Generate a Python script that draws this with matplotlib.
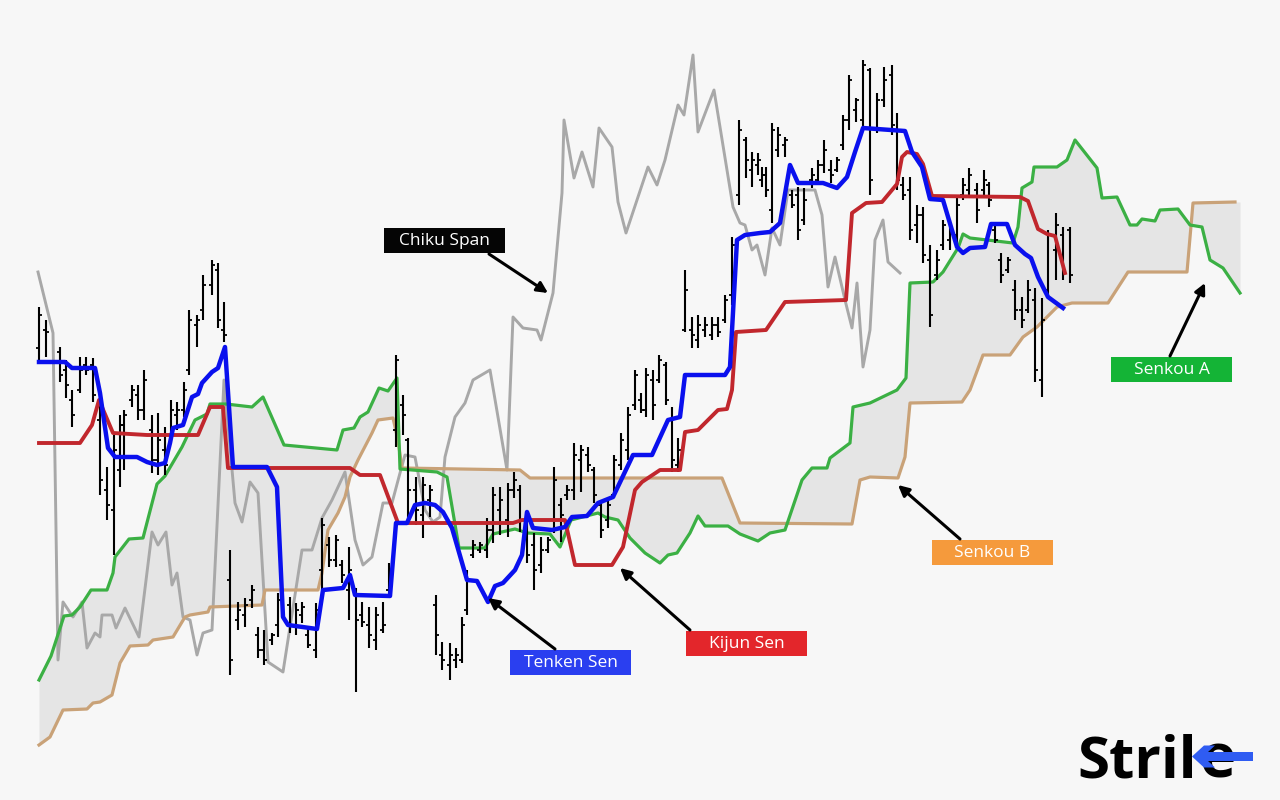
import numpy as np
import matplotlib
matplotlib.use("Agg")
import matplotlib.pyplot as plt
from matplotlib.patches import Rectangle, Polygon

# ---- price bars (time, high, low, open, close) ----
bar_t = [3.9, 4.6, 6.0, 6.6, 7.2, 8.0, 8.6, 9.3, 10.0, 10.7, 11.4, 12.0, 12.4, 13.2, 13.8, 14.4,
         15.2, 15.8, 16.5, 17.1, 17.7, 18.4, 18.9, 19.7, 20.3, 21.2, 21.8, 22.4, 23.0, 23.8, 24.5,
         25.2, 25.8, 26.4, 27.2, 27.8, 29.0, 29.6, 30.2, 30.8, 31.6, 32.2, 32.9, 33.6, 34.2, 34.9,
         35.6, 36.2, 36.9, 37.6, 38.3, 38.9, 39.6, 40.3, 40.8, 41.6, 42.3, 43.0, 43.6, 44.2, 45.0,
         45.6, 46.2, 46.7, 47.3, 48.0, 48.7, 49.3, 50.0, 50.8, 51.4, 52.0, 52.7, 53.4, 54.1, 54.8,
         55.4, 56.1, 56.7, 57.4, 58.1, 58.8, 59.4, 60.1, 60.8, 61.4, 62.1, 62.8, 63.5, 64.1, 64.6,
         65.3, 65.9, 66.6, 67.2, 67.8, 68.5, 69.2, 69.8, 70.5, 71.2, 71.8, 72.5, 73.2, 73.9, 74.6,
         75.2, 75.8, 76.2, 76.6, 77.2, 77.8, 78.5, 79.2, 79.8, 80.4, 81.2, 81.8, 82.4, 83.1, 83.7,
         84.3, 84.9, 85.6, 86.3, 87.0, 87.7, 88.4, 89.2, 89.7, 90.3, 91.0, 91.7, 92.3, 93.0, 93.7,
         94.3, 95.0, 95.7, 96.3, 96.9, 97.7, 98.4, 98.9, 99.5, 100.1, 100.8, 101.5, 102.2, 102.8,
         103.5, 104.2, 104.8, 105.6, 106.3, 107.0]
bar_high = [49.3, 48.0, 45.3, 44.0, 41.0, 44.3, 44.3, 44.2, 40.3, 33.3, 36.5, 38.5, 39.0, 41.5, 41.5, 43.0,
            38.5, 38.7, 37.3, 40.0, 39.8, 41.8, 49.0, 48.5, 52.5, 54.0, 53.7, 49.8, 25.0, 19.8, 20.2,
            21.5, 17.3, 17.0, 16.7, 20.7, 20.3, 19.7, 19.8, 17.2, 19.7, 28.2, 26.3, 26.5, 24.0, 25.3,
            21.2, 19.8, 19.3, 19.3, 19.8, 23.7, 44.5, 40.5, 36.2, 32.3, 32.3, 31.5, 20.5, 15.8, 15.7,
            15.2, 18.3, 23.0, 26.0, 25.8, 28.2, 31.3, 31.3, 31.7, 32.8, 31.5, 28.3, 26.7, 26.3, 26.3,
            33.3, 30.2, 31.5, 35.7, 35.5, 35.3, 33.3, 30.0, 30.3, 34.5, 36.7, 39.3, 43.0, 40.7, 43.2,
            43.0, 44.5, 43.8, 39.3, 36.2, 53.0, 48.3, 48.5, 48.3, 48.3, 48.3, 50.5, 56.3, 68.0, 66.3,
            64.8, 64.7, 63.3, 63.3, 67.7, 67.3, 66.3, 61.0, 61.3, 61.2, 63.2, 64.0, 66.0, 64.0, 64.3,
            68.5, 72.5, 70.2, 74.0, 73.2, 70.7, 73.3, 73.5, 68.7, 62.3, 62.3, 59.5, 59.3, 55.5, 55.0,
            58.0, 57.7, 60.3, 62.2, 63.2, 61.7, 63.0, 61.8, 57.7, 54.7, 54.3, 52.0, 50.3, 52.0,
            51.2, 50.2, 57.0, 58.7, 57.3, 57.3]
bar_low = [43.8, 44.3, 41.8, 40.2, 37.3, 40.7, 42.5, 39.8, 30.5, 28.0, 24.5, 31.3, 33.0, 39.3, 38.0, 38.0,
           32.7, 32.5, 32.5, 36.3, 37.0, 38.3, 42.5, 45.3, 48.0, 50.5, 47.2, 45.8, 12.5, 17.0, 17.3,
           19.2, 14.2, 13.5, 15.5, 16.3, 16.7, 16.5, 17.7, 15.2, 14.2, 21.0, 23.3, 23.3, 21.7, 18.0,
           10.8, 17.3, 15.2, 15.0, 16.7, 20.3, 35.3, 36.5, 28.0, 27.5, 26.2, 28.3, 14.5, 13.0, 12.0,
           13.2, 13.7, 18.5, 24.2, 24.7, 24.2, 25.7, 26.5, 26.3, 30.2, 26.8, 23.7, 21.0, 22.7, 24.7,
           26.7, 25.8, 30.0, 30.0, 30.8, 32.8, 29.7, 26.2, 27.2, 30.2, 33.0, 34.0, 39.0, 38.7, 38.3,
           38.0, 41.7, 39.5, 32.8, 32.8, 46.8, 45.2, 45.2, 46.3, 46.0, 46.3, 47.7, 49.5, 59.5, 62.2,
           61.3, 62.5, 61.3, 60.3, 57.7, 64.3, 64.3, 59.2, 56.0, 57.5, 61.2, 61.7, 62.7, 61.7, 62.8,
           65.0, 67.0, 67.8, 67.0, 60.5, 66.7, 69.3, 66.5, 61.0, 60.0, 56.0, 55.7, 53.7, 47.3, 52.0,
           55.0, 55.0, 55.7, 60.0, 60.2, 57.7, 60.3, 59.3, 55.7, 51.7, 52.7, 48.0, 47.2, 48.7,
           41.8, 40.3, 50.2, 52.0, 52.0, 51.7]
bar_open = [45.2, 47.0, 44.8, 43.0, 40.0, 41.0, 43.5, 43.5, 38.0, 31.0, 29.0, 33.0, 37.5, 40.0, 40.5, 39.0,
            37.0, 34.0, 35.0, 36.5, 38.5, 39.0, 43.0, 47.5, 49.0, 51.5, 53.0, 47.0, 22.0, 18.0, 18.5,
            20.0, 16.5, 15.0, 16.0, 17.5, 19.5, 17.5, 18.5, 16.5, 15.0, 23.0, 25.5, 24.0, 23.5, 21.0,
            20.5, 18.5, 17.5, 16.0, 17.0, 21.0, 37.0, 39.5, 36.0, 31.0, 28.5, 30.0, 19.5, 14.5, 13.5,
            14.0, 14.0, 19.0, 24.5, 25.0, 25.0, 27.0, 29.0, 28.0, 31.0, 31.0, 27.5, 25.5, 23.5, 25.0,
            27.0, 29.5, 30.5, 31.0, 34.0, 34.5, 33.0, 29.5, 28.0, 30.5, 33.5, 35.0, 39.5, 40.0, 39.0,
            42.0, 42.0, 43.5, 38.0, 33.5, 47.0, 47.0, 46.0, 47.0, 46.5, 47.5, 48.0, 50.5, 60.5, 66.0,
            63.0, 63.5, 62.0, 62.5, 59.0, 65.0, 65.5, 60.5, 60.5, 58.0, 62.0, 62.0, 63.5, 63.0, 63.0,
            65.5, 68.0, 69.0, 68.0, 73.0, 67.0, 70.0, 72.5, 67.0, 61.5, 61.0, 57.5, 58.5, 54.0, 52.5,
            55.5, 56.0, 56.5, 60.5, 61.0, 61.0, 61.0, 61.5, 57.0, 54.0, 53.0, 51.0, 49.0, 49.0,
            50.0, 42.0, 51.0, 55.0, 56.5, 57.0]
bar_close = [48.5, 46.8, 42.5, 41.5, 38.5, 43.0, 43.0, 40.5, 32.0, 29.5, 35.0, 37.5, 38.5, 41.0, 39.0, 42.0,
             34.0, 36.0, 33.5, 39.0, 39.0, 41.0, 48.0, 48.0, 51.5, 53.5, 48.0, 46.5, 14.0, 19.0, 19.5,
             21.0, 15.0, 14.0, 16.5, 20.0, 17.5, 19.0, 19.3, 15.5, 19.0, 27.5, 24.0, 26.0, 22.5, 23.0,
             18.0, 17.8, 16.5, 18.5, 17.5, 23.0, 44.0, 38.5, 31.0, 29.0, 31.5, 31.0, 16.5, 14.0, 14.5,
             14.5, 17.5, 22.0, 25.5, 25.5, 27.0, 30.5, 30.0, 31.0, 32.0, 28.0, 24.5, 23.0, 25.0, 26.0,
             32.0, 28.5, 31.0, 34.5, 35.0, 33.5, 30.5, 27.0, 29.5, 34.0, 36.0, 38.5, 42.5, 39.0, 42.5,
             39.5, 44.0, 40.0, 34.0, 35.0, 51.0, 46.5, 47.5, 47.5, 47.5, 46.8, 50.0, 55.5, 67.0, 64.0,
             64.0, 64.0, 62.5, 61.0, 67.0, 66.5, 66.0, 59.5, 57.0, 60.0, 62.5, 63.5, 65.0, 62.5, 64.0,
             68.0, 72.0, 70.0, 73.5, 62.0, 70.0, 72.0, 67.5, 62.0, 60.5, 57.0, 58.5, 54.5, 48.5, 54.0,
             57.5, 57.0, 59.5, 61.5, 62.5, 59.0, 62.0, 60.0, 56.0, 52.5, 54.0, 49.0, 48.0, 51.0,
             43.0, 48.0, 56.5, 57.5, 53.0, 52.5]

# ---- Ichimoku lines ----
tenkan_t = [3.9, 6.5, 7.2, 9.5, 10.0, 10.8, 11.5, 13.7, 14.7, 15.7, 16.5, 17.0, 17.3, 18.3, 19.2, 19.8,
            20.2, 21.2, 21.8, 22.5, 23.3, 26.7, 27.7, 28.3, 28.8, 31.7, 32.3, 34.3, 35.0, 35.5, 39.0,
            39.6, 40.7, 41.5, 42.5, 43.5, 44.3, 45.2, 46.7, 47.7, 48.8, 49.5, 50.3, 51.5, 52.2, 52.7,
            53.3, 55.2, 56.5, 57.2, 58.7, 59.8, 61.3, 63.3, 65.2, 66.8, 68.0, 68.5, 72.5, 73.0, 73.7,
            74.5, 76.0, 77.0, 78.0, 79.0, 79.8, 82.3, 83.7, 84.7, 85.5, 86.3, 90.5, 91.2, 92.2, 93.0,
            94.3, 95.7, 96.3, 97.0, 98.5, 99.1, 100.7, 101.5, 102.5, 103.1, 103.8, 104.8, 106.3]
tenkan = [43.8, 43.8, 43.2, 43.2, 40.7, 35.2, 34.3, 34.3, 33.8, 33.5, 33.7, 35.7, 37.2, 37.5, 40.3, 40.6,
          41.7, 42.8, 43.2, 45.3, 33.3, 33.3, 31.3, 18.3, 17.5, 17.1, 21.0, 21.2, 22.5, 20.5, 20.4,
          27.7, 27.7, 29.5, 29.7, 29.5, 28.8, 27.2, 22.0, 21.9, 19.8, 21.4, 21.7, 23.0, 24.5, 28.8,
          27.2, 27.0, 27.3, 28.3, 28.4, 29.7, 30.3, 34.5, 34.5, 38.0, 38.3, 42.5, 42.5, 43.3, 56.0,
          56.5, 56.7, 56.8, 57.7, 63.5, 61.7, 61.7, 61.2, 62.3, 64.8, 67.2, 66.9, 64.8, 63.3, 60.1,
          60.0, 55.3, 54.7, 55.2, 55.3, 57.6, 57.6, 55.5, 54.6, 54.2, 52.3, 50.3, 49.2]

kijun_t = [3.9, 8.0, 9.2, 9.9, 11.3, 14.7, 19.8, 21.0, 22.3, 22.8, 35.0, 36.0, 38.0, 39.8, 51.3, 52.2,
           56.5, 57.5, 61.2, 62.3, 63.5, 64.2, 66.0, 68.0, 68.5, 69.8, 71.8, 72.7, 73.2, 73.6, 76.6,
           78.5, 84.6, 85.2, 86.6, 88.2, 89.7, 90.2, 90.7, 91.7, 92.3, 93.2, 102.0, 102.8, 103.8,
           104.7, 105.5, 106.5]
kijun = [35.7, 35.7, 37.5, 40.0, 36.7, 36.5, 36.5, 39.3, 39.3, 33.2, 33.2, 32.5, 32.5, 27.7, 27.7, 28.0,
         28.0, 23.5, 23.5, 25.3, 31.0, 31.8, 33.0, 33.0, 36.8, 37.0, 39.0, 39.1, 41.0, 46.8, 47.0,
         49.8, 50.0, 58.7, 59.7, 59.8, 61.6, 64.3, 64.8, 64.6, 63.6, 60.4, 60.3, 59.9, 57.1,
         56.6, 56.4, 52.7]

senkou_a_t = [3.9, 5.1, 6.4, 7.2, 8.0, 9.1, 10.7, 11.3, 11.5, 12.9, 14.3, 15.7, 16.5, 18.2, 19.5, 20.7,
              21.0, 22.6, 25.2, 26.3, 28.4, 33.7, 34.3, 35.4, 36.0, 36.8, 37.9, 38.8, 39.7, 40.0, 43.7,
              44.7, 45.9, 48.5, 49.3, 51.5, 52.7, 55.0, 56.0, 57.1, 59.8, 60.5, 61.8, 63.0, 64.5, 66.0,
              66.8, 67.7, 69.0, 69.8, 70.5, 72.8, 74.0, 75.8, 77.0, 78.5, 80.2, 81.2, 82.7, 83.0, 85.0,
              85.3, 87.0, 89.7, 90.6, 91.0, 93.3, 94.3, 95.8, 96.3, 97.0, 101.3, 101.8, 102.2, 103.2,
              103.4, 105.7, 106.7, 107.5, 109.7, 110.2, 111.7, 113.0, 113.7, 114.2, 115.5, 116.0, 117.8,
              119.0, 120.2, 121.0, 122.3, 124.0]
senkou_a = [12.0, 14.4, 18.4, 18.5, 19.3, 21.0, 21.0, 22.7, 24.3, 26.1, 26.2, 31.6, 32.4, 35.3, 38.0, 38.6,
            39.6, 39.6, 39.3, 40.3, 35.5, 35.0, 37.0, 37.2, 38.3, 38.8, 41.2, 40.9, 42.2, 33.1, 32.8,
            32.3, 25.2, 25.2, 26.6, 27.1, 26.7, 26.6, 25.3, 28.0, 28.7, 28.3, 28.0, 26.2, 24.7, 23.7,
            24.5, 24.7, 26.7, 28.4, 27.4, 27.4, 26.6, 25.9, 26.7, 27.0, 32.0, 33.2, 33.2, 34.2, 35.7,
            39.3, 39.7, 41.0, 42.2, 51.7, 51.8, 52.8, 55.2, 56.6, 56.2, 55.7, 57.3, 61.2, 61.8,
            63.3, 63.3, 64.0, 66.0, 63.2, 60.2, 60.3, 57.5, 57.5, 58.1, 57.9, 59.0, 59.1,
            57.5, 57.3, 54.0, 53.2, 50.7]

senkou_b_t = [3.9, 5.0, 6.3, 8.7, 9.3, 10.0, 11.2, 12.0, 13.0, 14.8, 15.3, 17.3, 18.5, 19.0, 20.8, 21.0,
              26.2, 26.5, 31.8, 32.2, 32.8, 33.8, 34.5, 35.0, 35.8, 37.2, 37.8, 39.3, 39.8, 40.2, 52.0,
              53.0, 72.2, 74.0, 85.2, 86.0, 87.0, 89.8, 90.5, 91.0, 96.2, 97.0, 98.3, 101.0, 102.3,
              103.7, 105.7, 107.2, 110.8, 112.8, 118.7, 119.3, 123.5]
senkou_b = [5.5, 6.3, 9.0, 9.1, 9.7, 9.8, 10.5, 13.7, 15.4, 15.5, 16.0, 16.3, 18.3, 18.5, 18.8, 19.3,
            19.5, 21.0, 21.0, 22.7, 27.0, 28.7, 30.3, 32.3, 34.0, 36.7, 38.0, 38.2, 36.0, 33.2, 33.0,
            32.2, 32.2, 27.7, 27.6, 32.0, 32.3, 32.2, 34.3, 39.7, 39.8, 41.0, 44.5, 44.5, 46.3,
            47.3, 49.3, 49.7, 49.7, 52.8, 52.8, 59.7, 59.8]

chikou_t = [3.8, 5.3, 5.8, 6.3, 7.3, 8.2, 8.7, 9.5, 10.0, 10.2, 11.2, 11.6, 12.5, 13.9, 15.2, 15.8, 16.6,
            17.2, 17.7, 18.3, 19.0, 19.7, 20.3, 21.2, 22.4, 23.5, 24.2, 25.0, 25.8, 26.8, 28.3, 30.2,
            31.2, 32.2, 33.2, 34.5, 35.5, 36.3, 37.2, 38.3, 39.2, 40.0, 40.5, 41.5, 42.5, 43.3, 44.0,
            44.5, 45.5, 46.5, 47.3, 49.0, 50.7, 51.3, 52.3, 53.7, 54.1, 55.3, 56.2, 56.4, 57.4, 58.2,
            59.3, 59.9, 61.2, 61.8, 62.6, 64.8, 65.7, 66.5, 67.8, 68.4, 69.3, 69.8, 71.4, 73.3, 74.0,
            74.5, 75.2, 75.7, 76.5, 77.2, 78.0, 78.8, 81.5, 82.2, 82.8, 83.5, 84.5, 85.2, 85.7, 86.3,
            87.0, 87.5, 88.3, 88.8, 90.0]
chikou = [52.8, 46.7, 14.0, 19.8, 18.3, 19.8, 15.2, 16.7, 16.3, 18.5, 18.5, 17.2, 19.2, 16.3, 26.8, 25.5,
          26.8, 21.5, 22.7, 18.3, 18.0, 14.5, 16.7, 17.0, 42.0, 29.7, 27.8, 31.8, 30.7, 13.8, 12.8,
          25.0, 25.0, 28.2, 30.0, 32.8, 26.0, 23.5, 24.3, 29.7, 29.7, 32.7, 34.5, 34.3, 29.0, 27.8,
          28.3, 34.3, 38.3, 39.7, 42.0, 43.0, 33.0, 48.3, 47.2, 47.0, 46.0, 50.7, 60.7, 68.0, 62.2,
          64.8, 61.3, 67.2, 65.3, 59.8, 56.7, 63.3, 61.5, 64.0, 69.5, 68.5, 74.5, 66.8, 71.0, 59.3,
          57.7, 57.5, 55.0, 55.5, 52.5, 57.2, 55.5, 61.0, 61.0, 58.5, 51.3, 54.3, 50.0, 47.2, 51.7,
          43.3, 47.0, 56.0, 58.0, 53.8, 52.7]

# label boxes: text, colour, centre (t, price), arrow tail, arrow head
labels = ['Chiku Span', 'Tenken Sen', 'Kijun Sen', 'Senkou B', 'Senkou A']
label_colors = ['#050505', '#2a3ff0', '#e3262b', '#f59a3c', '#14b436']
label_pos = [(44.4, 55.95), (57.05, 13.75), (74.65, 15.65), (99.25, 24.75), (117.15, 43.05)]
arrow_from = [(48.9, 54.6), (55.5, 15.1), (69.0, 17.0), (96.0, 26.1), (117.0, 44.4)]
arrow_to = [(54.8, 50.7), (48.8, 20.2), (62.0, 23.2), (89.8, 31.5), (120.5, 51.7)]

fig = plt.figure(figsize=(12.8, 8), dpi=100)
fig.patch.set_facecolor('#f7f7f7')
ax = fig.add_axes([0, 0, 1, 1])
ax.set_facecolor('#f7f7f7')
ax.set_xlim(0, 128)
ax.set_ylim(0, 80)
ax.axis('off')

# cloud between the two senkou lines
grid = np.linspace(senkou_a_t[0], senkou_a_t[-1], 1500)
a_on_grid = np.interp(grid, senkou_a_t, senkou_a)
b_on_grid = np.interp(grid, senkou_b_t, senkou_b)
ax.fill_between(grid, a_on_grid, b_on_grid, color='#e5e5e5', lw=0, zorder=1)

ax.plot(chikou_t, chikou, color='#a8a8a8', lw=2.1, zorder=2)
ax.plot(senkou_b_t, senkou_b, color='#c9a278', lw=2.3, zorder=3)
ax.plot(senkou_a_t, senkou_a, color='#3bb044', lw=2.3, zorder=3)

# OHLC bars
ax.vlines(bar_t, bar_low, bar_high, color='black', lw=1.5, zorder=4)
ax.hlines(bar_open, np.array(bar_t) - 0.3, bar_t, color='black', lw=1.3, zorder=4)
ax.hlines(bar_close, bar_t, np.array(bar_t) + 0.3, color='black', lw=1.3, zorder=4)

ax.plot(kijun_t, kijun, color='#c1272d', lw=2.8, zorder=5)
ax.plot(tenkan_t, tenkan, color='#0a10ee', lw=3.2, zorder=6)

# callouts
for txt, col, (cx, cy), tail, head in zip(labels, label_colors, label_pos, arrow_from, arrow_to):
    ax.add_patch(Rectangle((cx - 6.05, cy - 1.25), 12.1, 2.5, facecolor=col, edgecolor='none', zorder=7))
    ax.text(cx, cy - 0.05, txt, color='white', fontsize=12.5, family='Open Sans',
            ha='center', va='center', zorder=8)
    ax.annotate('', xy=head, xytext=tail, zorder=8,
                arrowprops=dict(arrowstyle='-|>', color='black', lw=2.2, mutation_scale=16,
                                shrinkA=0, shrinkB=0))

# logo
ax.text(107.7, 2.2, 'Stril', fontsize=42, fontweight='bold', family='Open Sans',
        color='black', ha='left', va='baseline', zorder=8)
ax.text(119.9, 2.2, 'e', fontsize=44, fontweight='bold', family='Open Sans',
        color='black', ha='left', va='baseline', zorder=8)
ax.add_patch(Polygon([(119.2, 4.35), (120.4, 5.45), (121.5, 5.45), (120.8, 4.8), (125.3, 4.8),
                      (125.3, 3.9), (120.8, 3.9), (121.5, 3.25), (120.4, 3.25)],
                     closed=True, facecolor='#2f5cf2', edgecolor='none', zorder=9))

fig.savefig('out.png', dpi=100, facecolor=fig.get_facecolor())
